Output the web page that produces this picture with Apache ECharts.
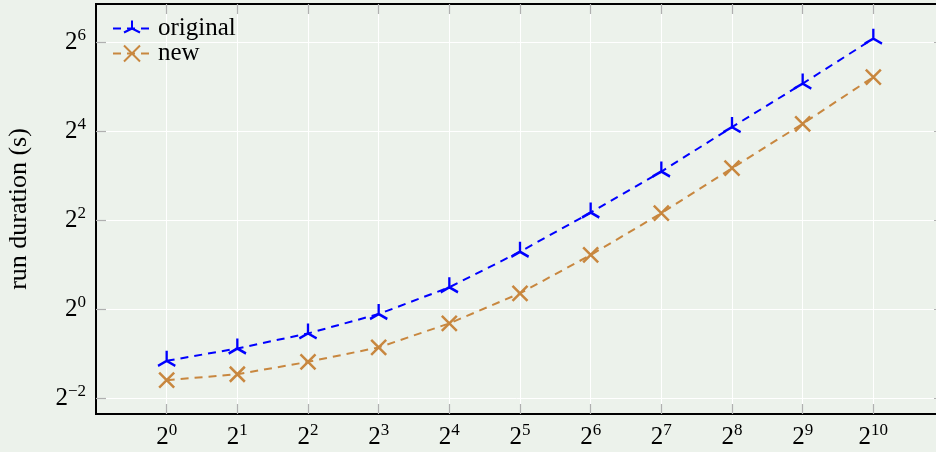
<!DOCTYPE html>
<html>
<head>
<meta charset="utf-8">
<script src="https://cdn.jsdelivr.net/npm/echarts@6/dist/echarts.min.js"></script>
<style>
  html, body { margin: 0; padding: 0; background: #ecf2eb; }
  #chart { width: 936px; height: 452px; }
</style>
</head>
<body>
<div id="chart"></div>
<script>
// Problem sizes (x) and measured run durations in seconds for each variant.
const sizes = [1, 2, 4, 8, 16, 32, 64, 128, 256, 512, 1024];
const originalSeconds = [0.446, 0.541, 0.684, 0.925, 1.404, 2.445, 4.50, 8.53, 17.05, 33.6, 67.7];
const newSeconds = [0.330, 0.362, 0.439, 0.550, 0.800, 1.278, 2.323, 4.454, 8.99, 17.96, 37.2];

// Tick positions, as powers of two.
const xTickExponents = [0, 1, 2, 3, 4, 5, 6, 7, 8, 9, 10];
const yTickExponents = [-2, 0, 2, 4, 6];

const FONT = 'Liberation Serif';
const BLUE = '#0000ff';
const ORANGE = '#c8873f';
const TICK_GRAY = '#b0b0b0';

// Both axes are base-2 logarithmic: points are placed by their exponent.
const toLog = (xs, ys) => xs.map((x, i) => [Math.log2(x), Math.log2(ys[i])]);

const powLabel = v => {
  const e = v < 0 ? '\u2212' + (-v) : String(v);
  return '{b|2}{s|' + e + '}';
};
const powRich = {
  b: { fontFamily: FONT, fontSize: 25, color: '#000', lineHeight: 30 },
  s: { fontFamily: FONT, fontSize: 17, color: '#000', lineHeight: 18, verticalAlign: 'top' }
};

// Three-armed marker (one arm up, two down) and a diagonal cross.
const TRI = 'path://M0,10 M0,0 L0,-10 M0,0 L-8.66,5 M0,0 L8.66,5';
const CROSS = 'path://M-1,-1 L1,1 M-1,1 L1,-1';

const tickStyle = { show: true, inside: true, length: 10, lineStyle: { color: TICK_GRAY, width: 1.2 } };

const chart = echarts.init(document.getElementById('chart'), null, { renderer: 'canvas' });
chart.setOption({
  animation: false,
  backgroundColor: '#ecf2eb',
  grid: {
    left: 96, top: 4, right: -8, bottom: 38,
    outerBoundsMode: 'none', containLabel: false,
    show: true, backgroundColor: '#ecf2eb', borderColor: '#000', borderWidth: 2, z: 0
  },
  legend: {
    orient: 'vertical', left: 107, top: 11,
    itemWidth: 38, itemHeight: 20, itemGap: 0,
    textStyle: { fontFamily: FONT, fontSize: 25, color: '#000', padding: [0, 0, 0, 2] },
    data: ['original', 'new']
  },
  xAxis: [
    {
      type: 'value', position: 'bottom', min: -1, max: 11, interval: 1,
      axisLine: { show: false, onZero: false },
      axisTick: Object.assign({}, tickStyle, { customValues: xTickExponents }),
      axisLabel: { customValues: xTickExponents, formatter: powLabel, rich: powRich, margin: 8 },
      splitLine: { show: true, lineStyle: { color: '#ffffff', width: 1 } }
    },
    {
      type: 'value', position: 'top', min: -1, max: 11, interval: 1,
      axisLine: { show: false, onZero: false },
      axisTick: Object.assign({}, tickStyle, { customValues: xTickExponents }),
      axisLabel: { show: false },
      splitLine: { show: false }
    }
  ],
  yAxis: [
    {
      type: 'value', position: 'left', min: -2.36, max: 6.86,
      axisLine: { show: false, onZero: false },
      name: 'run duration (s)', nameLocation: 'middle', nameGap: 64,
      nameTextStyle: { fontFamily: FONT, fontSize: 26, color: '#000' },
      axisTick: Object.assign({}, tickStyle, { customValues: yTickExponents }),
      axisLabel: { customValues: yTickExponents, formatter: powLabel, rich: powRich, margin: 10 },
      splitLine: { show: true, lineStyle: { color: '#ffffff', width: 1 } }
    },
    {
      type: 'value', position: 'right', min: -2.36, max: 6.86,
      axisLine: { show: false, onZero: false },
      axisTick: Object.assign({}, tickStyle, { customValues: yTickExponents }),
      axisLabel: { show: false },
      splitLine: { show: false }
    }
  ],
  series: [
    {
      name: 'original', type: 'line', xAxisIndex: 0, yAxisIndex: 0,
      data: toLog(sizes, originalSeconds),
      symbol: TRI, symbolSize: [17.3, 20], showAllSymbol: true,
      lineStyle: { color: BLUE, width: 2, type: [8, 6] },
      itemStyle: { color: BLUE, borderColor: BLUE, borderWidth: 2.5 },
      z: 3
    },
    {
      name: 'new', type: 'line', xAxisIndex: 0, yAxisIndex: 0,
      data: toLog(sizes, newSeconds),
      symbol: CROSS, symbolSize: 15, showAllSymbol: true,
      lineStyle: { color: ORANGE, width: 2, type: [8, 6] },
      itemStyle: { color: ORANGE, borderColor: ORANGE, borderWidth: 2.5 },
      z: 3
    }
  ]
});
</script>
</body>
</html>
